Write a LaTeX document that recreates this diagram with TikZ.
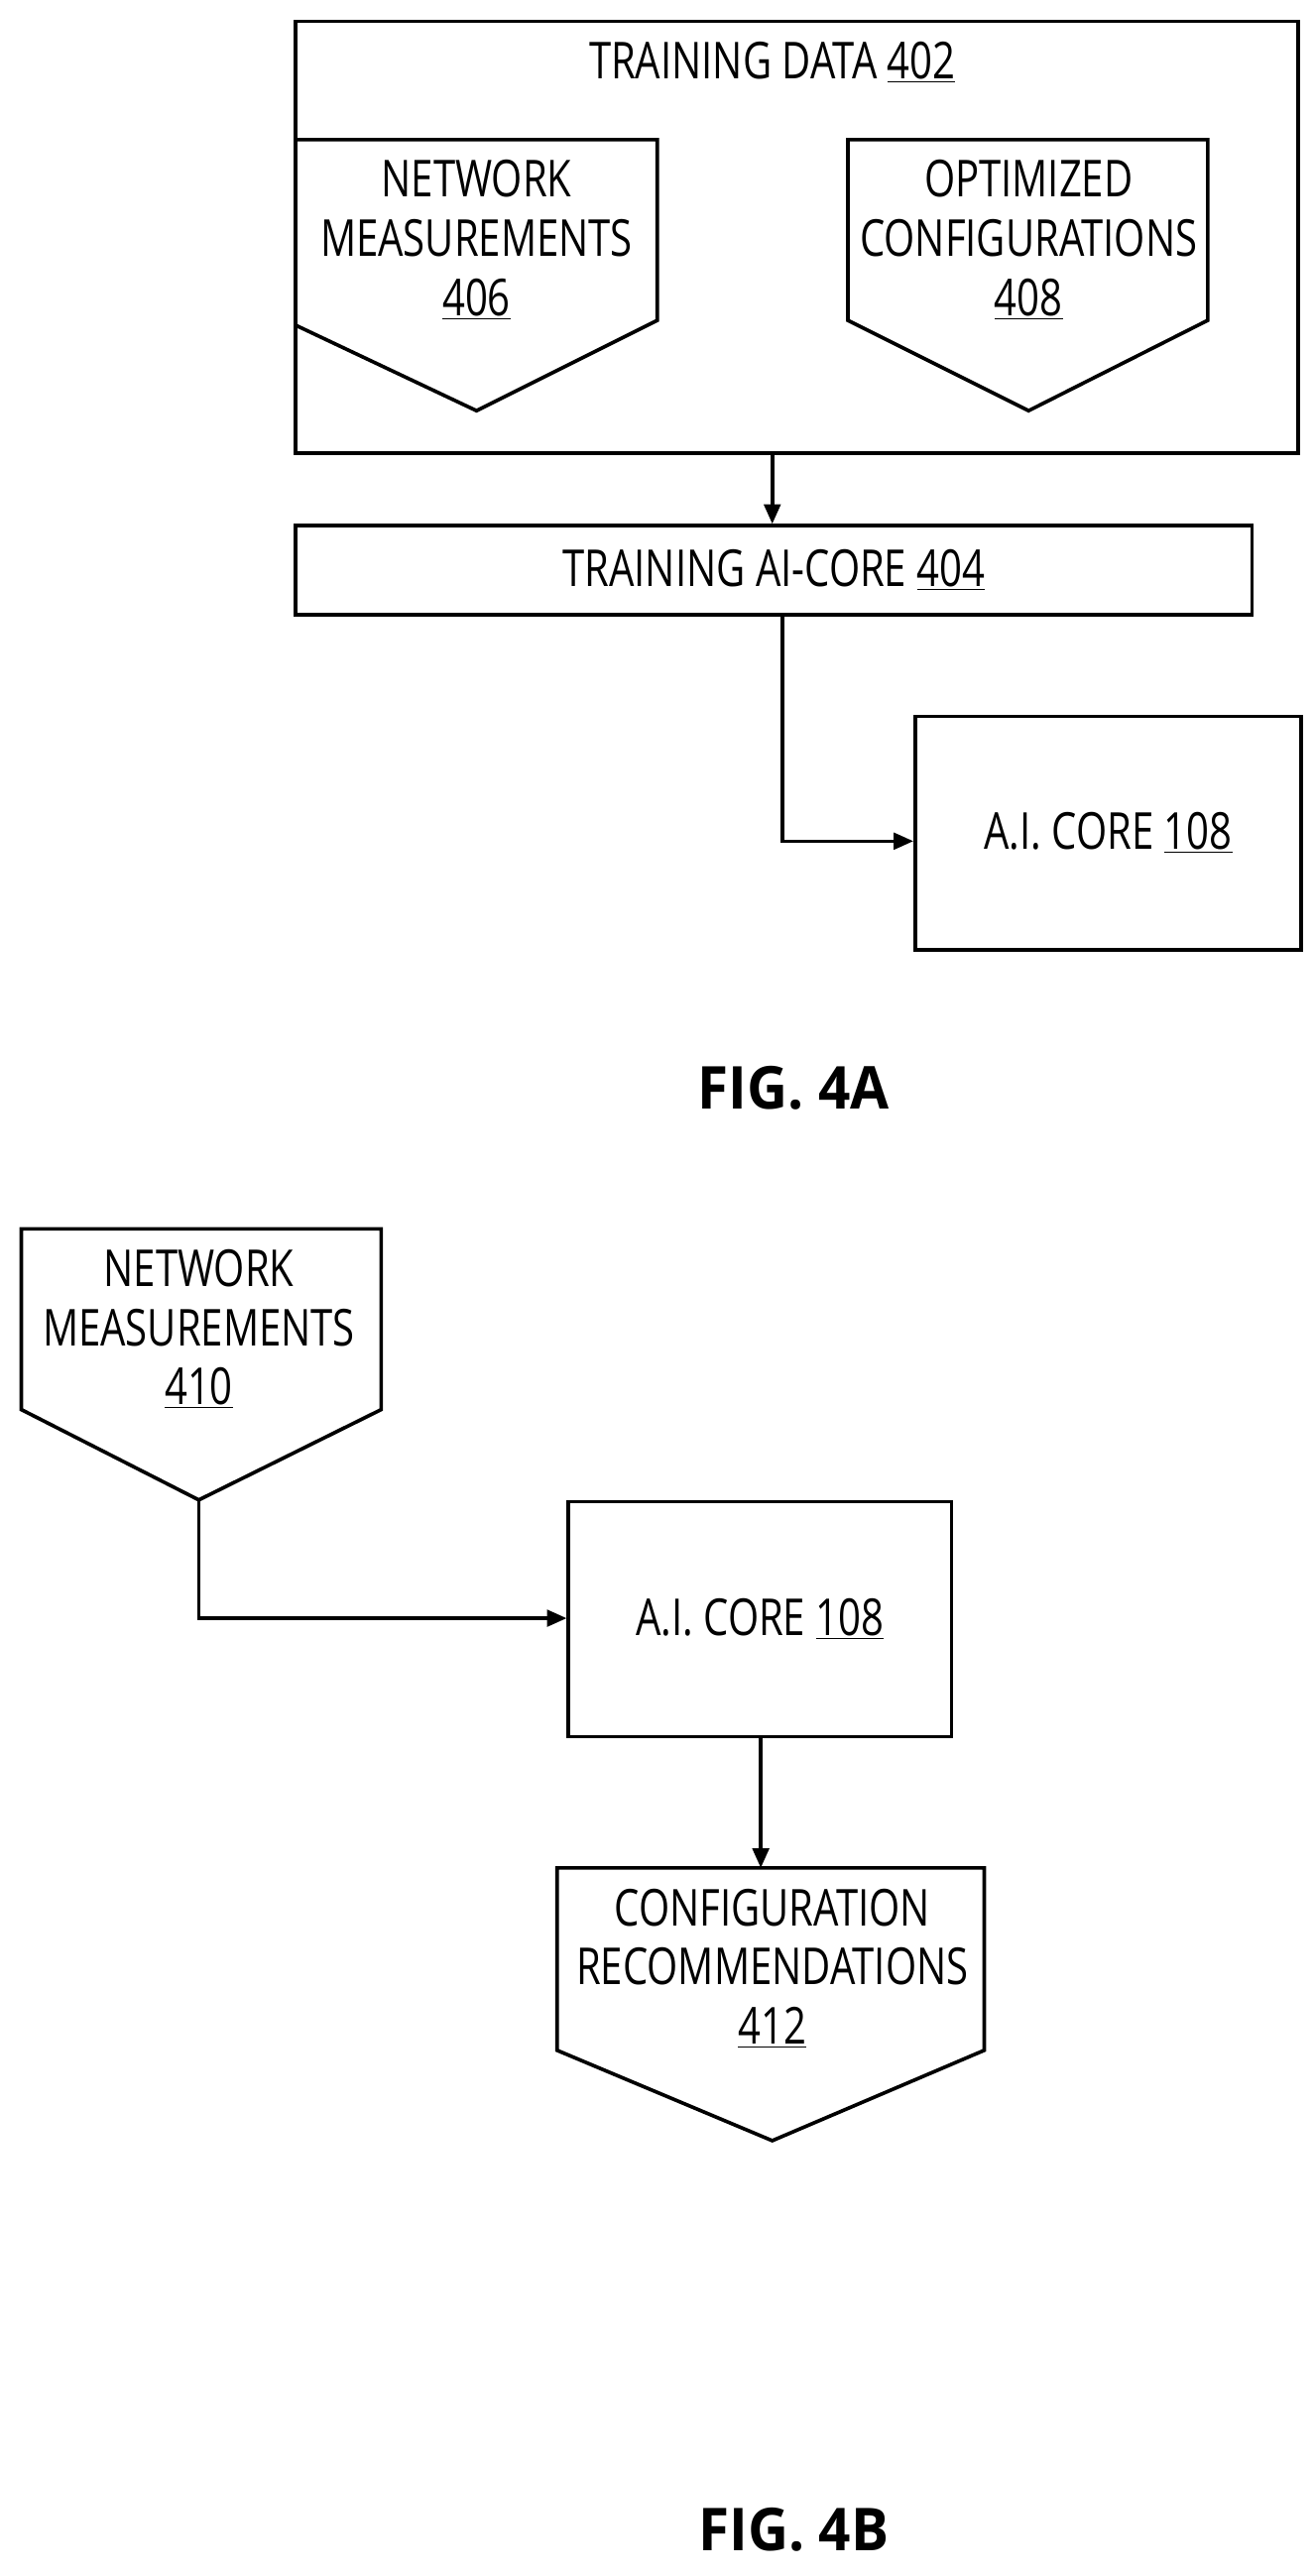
\documentclass[tikz,border=0pt]{standalone}
\usepackage{fontspec}
\setmainfont{Open Sans}[FakeStretch=0.78]
\newfontfamily\figfont{Open Sans}[FakeStretch=0.95]
\usetikzlibrary{arrows.meta}
\begin{document}
\begin{tikzpicture}[x=1pt,y=-1pt,
  lw/.style={line width=2.2pt},
  box/.style={draw,lw},
  txt/.style={font=\fontsize{31}{36}\selectfont,align=center,inner sep=0},
  arr/.style={lw,-{Triangle[length=12pt,width=10pt]}},
  fig/.style={font=\figfont\bfseries\fontsize{36}{40}\selectfont}]
\useasboundingbox (0,0) rectangle (800,1568);
% training data
\draw[box] (180,13) rectangle (790,276);
\node[txt] (td) at (470,38) {TRAINING DATA \underline{402}};
\draw[box] (180,85) -- (400,85) -- (400,195) -- (290,250) -- (180,198);
\node[txt] (nm) at (290,146) {NETWORK\\MEASUREMENTS\\\underline{406}};
\draw[box] (516,85) -- (735,85) -- (735,195) -- (626,250) -- (516,195) -- cycle;
\node[txt] (oc) at (626,146) {OPTIMIZED\\CONFIGURATIONS\\\underline{408}};
\coordinate (tdb) at (470,276);
\node[box,minimum width=582pt,minimum height=54pt,txt] (tac) at (471,347) {TRAINING AI-CORE \underline{404}};
\draw[arr] (tdb) -- (tac.north -| tdb);
\node[box,minimum width=235pt,minimum height=142pt,txt] (ai1) at (674.5,507) {A.I. CORE \underline{108}};
\coordinate (t1) at (476,374);
\draw[arr] (t1) -- (476,512) -- (ai1.west |- 0,512);
\node[fig] (f4a) at (483,662) {FIG. 4A};
% 4B
\draw[box] (13,748) -- (232,748) -- (232,858) -- (121,913) -- (13,858) -- cycle;
\node[txt] (nm2) at (121,809) {NETWORK\\MEASUREMENTS\\\underline{410}};
\coordinate (p2) at (121,913);
\node[box,minimum width=233pt,minimum height=143pt,txt] (ai2) at (462.5,985.5) {A.I. CORE \underline{108}};
\draw[arr] (p2) -- (121,985) -- (ai2.west |- 0,985);
\draw[box] (339,1137) -- (599,1137) -- (599,1248) -- (470,1303) -- (339,1248) -- cycle;
\node[txt] (cr) at (470,1198) {CONFIGURATION\\RECOMMENDATIONS\\\underline{412}};
\coordinate (cb) at (463,1137);
\draw[arr] (ai2.south -| cb) -- (cb);
\node[fig] (f4b) at (483,1540) {FIG. 4B};
\end{tikzpicture}
\end{document}
